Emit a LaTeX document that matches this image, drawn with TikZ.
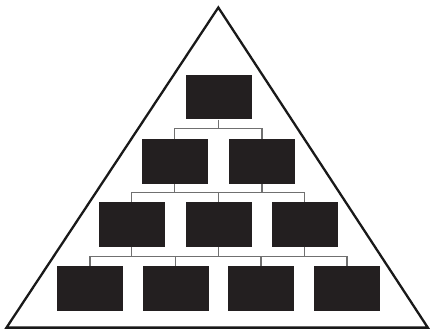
\documentclass[tikz,border=0pt]{standalone}
\begin{document}
\begin{tikzpicture}[x=1pt,y=-1pt,
  orgbox/.style={fill=boxfill,draw=none,inner sep=0pt,minimum width=65.7pt,minimum height=44.6pt},
  link/.style={draw=linkgray,line width=1.3pt},
  frame/.style={draw=black!90,line width=2.3pt,line join=miter}]
\definecolor{boxfill}{HTML}{231F20}
\definecolor{linkgray}{HTML}{707070}
\useasboundingbox (0,0) rectangle (430,331);
% triangle
\coordinate (apex) at (218.3,7.5);
\coordinate (bl) at (6.5,327.6);
\coordinate (br) at (427.8,327.6);
\draw[frame] (apex) -- (br) -- (bl) -- cycle;
% boxes
\node[orgbox] (a) at (218.8,97.2) {};
\node[orgbox] (b1) at (174.8,161.8) {};
\node[orgbox] (b2) at (262,161.8) {};
\node[orgbox] (c1) at (131.8,224.2) {};
\node[orgbox] (c2) at (218.8,224.2) {};
\node[orgbox] (c3) at (304.8,224.2) {};
\node[orgbox] (d1) at (90,288.3) {};
\node[orgbox] (d2) at (175.8,288.3) {};
\node[orgbox] (d3) at (260.9,288.3) {};
\node[orgbox] (d4) at (347,288.3) {};
% bars
\coordinate (bar1) at (0,128.8);
\coordinate (bar2) at (0,192.7);
\coordinate (bar3) at (0,256.2);
% level 1 -> 2
\draw[link] (a.south) -- (a.south |- bar1);
\draw[link] (b1.north) -- (b1.north |- bar1) -- (b2.north |- bar1) -- (b2.north);
% level 2 -> 3
\draw[link] (b1.south) -- (b1.south |- bar2);
\draw[link] (b2.south) -- (b2.south |- bar2);
\draw[link] (c1.north) -- (c1.north |- bar2) -- (c3.north |- bar2) -- (c3.north);
\draw[link] (c2.north) -- (c2.north |- bar2);
% level 3 -> 4
\draw[link] (c1.south) -- (c1.south |- bar3);
\draw[link] (c2.south) -- (c2.south |- bar3);
\draw[link] (c3.south) -- (c3.south |- bar3);
\draw[link] (d1.north) -- (d1.north |- bar3) -- (d4.north |- bar3) -- (d4.north);
\draw[link] (d2.north) -- (d2.north |- bar3);
\draw[link] (d3.north) -- (d3.north |- bar3);
\end{tikzpicture}
\end{document}
